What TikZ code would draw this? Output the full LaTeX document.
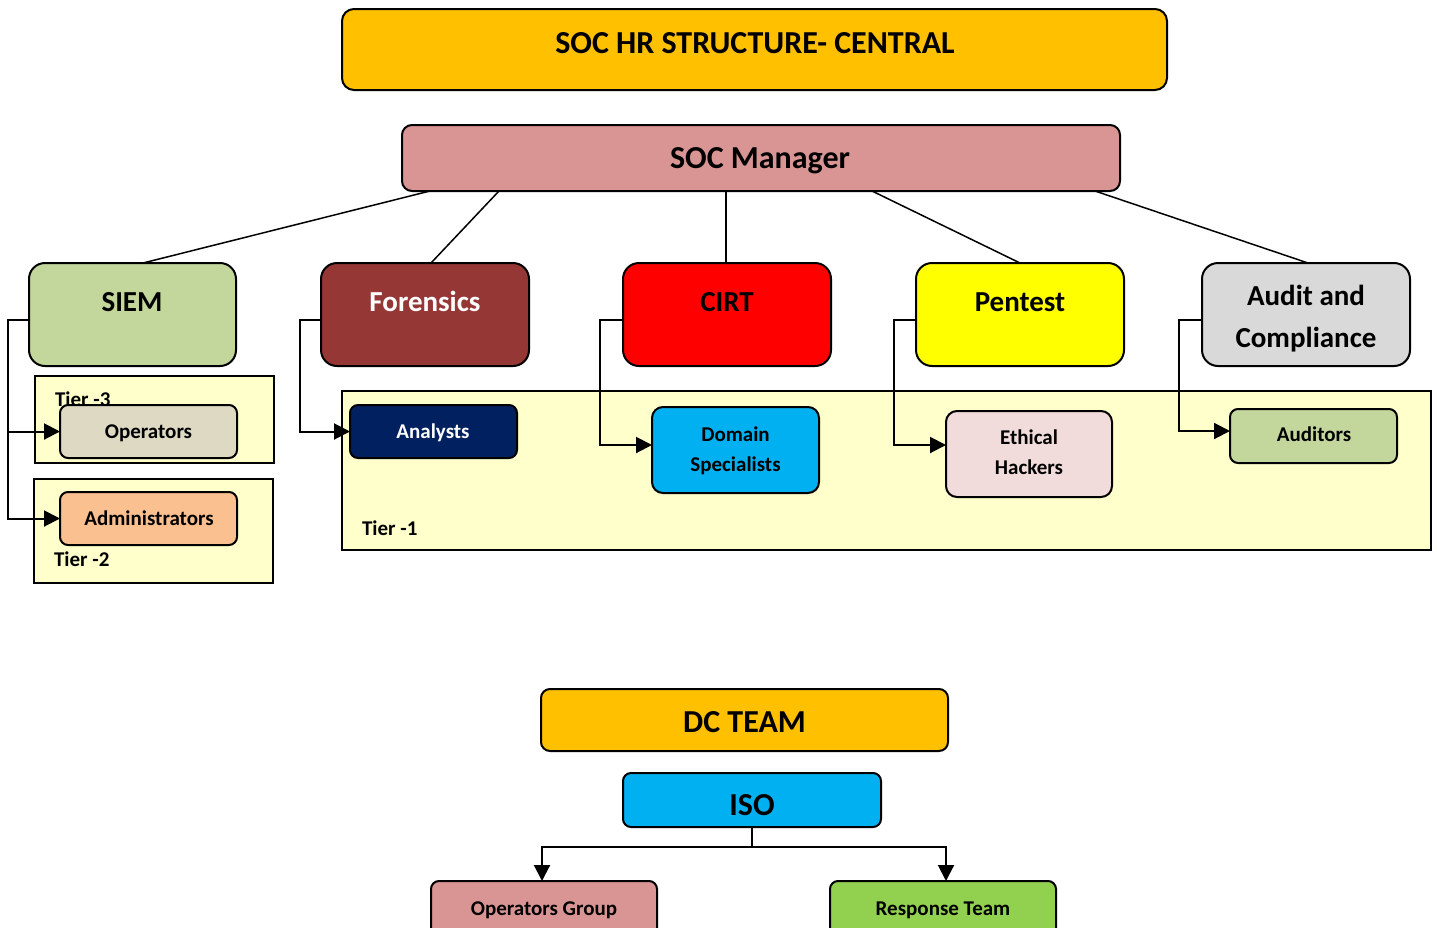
\documentclass[tikz,border=0pt]{standalone}
\usepackage{fontspec}
\setmainfont{Carlito}
\usetikzlibrary{arrows.meta}

\definecolor{cGold}{HTML}{FFC000}
\definecolor{cRose}{HTML}{D99594}
\definecolor{cOlive}{HTML}{C3D69B}
\definecolor{cMaroon}{HTML}{953735}
\definecolor{cRed}{HTML}{FF0000}
\definecolor{cYellow}{HTML}{FFFF00}
\definecolor{cGrey}{HTML}{D9D9D9}
\definecolor{cTier}{HTML}{FFFFCC}
\definecolor{cTaupe}{HTML}{DDD9C3}
\definecolor{cPeach}{HTML}{FAC090}
\definecolor{cNavy}{HTML}{002060}
\definecolor{cSky}{HTML}{00B0F0}
\definecolor{cBlush}{HTML}{F2DCDB}
\definecolor{cLime}{HTML}{92D050}

\newcommand\socXL{\fontsize{32}{38}\selectfont\bfseries}
\newcommand\socL{\fontsize{29}{42}\selectfont\bfseries}
\newcommand\socS{\fontsize{21}{30}\selectfont\bfseries}

\tikzset{
  box/.style={draw=black, line width=2pt, rounded corners=#1, inner sep=0pt, outer sep=0pt},
  box/.default=9pt,
  tierbox/.style={draw=black, line width=1.6pt, fill=cTier, inner sep=0pt, outer sep=0pt},
  lbl/.style={anchor=base, inner sep=0pt, outer sep=0pt},
  ml/.style={inner sep=0pt, outer sep=0pt, align=center},
  link/.style={line width=1.5pt},
  arr/.style={line width=2pt, -{Triangle[length=16pt,width=16pt]}},
}

\begin{document}
\begin{tikzpicture}[x=1pt,y=-1pt]
\path[use as bounding box, fill=white] (0,0) rectangle (1437,927);
\clip (0,0) rectangle (1437,927);

% header and manager
\node[box=12pt, fill=cGold, minimum width=825, minimum height=81] (title) at (754.5,49.5) {};
\node[lbl, font=\socXL] (titleT) at (755,53.3) {SOC HR STRUCTURE- CENTRAL};

\node[box=10pt, fill=cRose, minimum width=718, minimum height=66] (mgr) at (761,158) {};
\node[lbl, font=\socXL] (mgrT) at (760,168.3) {SOC Manager};

% tier containers
\node[tierbox, minimum width=239, minimum height=87] (tier3) at (154.5,419.5) {};
\node[tierbox, minimum width=239, minimum height=104] (tier2) at (153.5,531) {};
\node[tierbox, minimum width=1089, minimum height=159] (tier1) at (886.5,470.5) {};
\node[lbl, anchor=base west, font=\socS] (tier3T) at (55,406.8) {Tier -3};
\node[lbl, anchor=base west, font=\socS] (tier2T) at (54,566) {Tier -2};
\node[lbl, anchor=base west, font=\socS] (tier1T) at (362,535) {Tier -1};

% departments
\node[box=16pt, fill=cOlive, minimum width=207, minimum height=103] (siem) at (132.5,314.5) {};
\node[box=16pt, fill=cMaroon, minimum width=208, minimum height=103] (foren) at (425,314.5) {};
\node[box=16pt, fill=cRed, minimum width=208, minimum height=103] (cirt) at (727,314.5) {};
\node[box=16pt, fill=cYellow, minimum width=208, minimum height=103] (pent) at (1020,314.5) {};
\node[box=16pt, fill=cGrey, minimum width=208, minimum height=103] (audit) at (1306,314.5) {};
\node[lbl, font=\socL] (siemT) at (132,311.3) {SIEM};
\node[lbl, font=\socL, text=white] (forenT) at (425,311.3) {Forensics};
\node[lbl, font=\socL] (cirtT) at (727,311.3) {CIRT};
\node[lbl, font=\socL] (pentT) at (1020,311.3) {Pentest};
\node[ml, font=\socL] (auditT) at (1306,319) {Audit and\\Compliance};

% teams
\node[box=8pt, fill=cTaupe, minimum width=177, minimum height=53] (oper) at (148.5,431.5) {};
\node[box=8pt, fill=cPeach, minimum width=177, minimum height=53] (admin) at (148.5,518.5) {};
\node[box=8pt, fill=cNavy, minimum width=167, minimum height=53] (anal) at (433.5,431.5) {};
\node[box=11pt, fill=cSky, minimum width=167, minimum height=86] (dom) at (735.5,450) {};
\node[box=11pt, fill=cBlush, minimum width=166, minimum height=86] (eth) at (1029,454) {};
\node[box=8pt, fill=cOlive, minimum width=167, minimum height=54] (aud) at (1313.5,436) {};
\node[lbl, font=\socS] (operT) at (148.5,438.3) {Operators};
\node[lbl, font=\socS] (adminT) at (149,525.3) {Administrators};
\node[lbl, font=\socS, text=white] (analT) at (433,438.3) {Analysts};
\node[ml, font=\socS] (domT) at (735.5,450.6) {Domain\\Specialists};
\node[ml, font=\socS] (ethT) at (1029,452.5) {Ethical\\Hackers};
\node[lbl, font=\socS] (audT) at (1314,441.3) {Auditors};

% manager to departments
\draw[link] ([xshift=-331pt]mgr.south) -- ([xshift=10.5pt]siem.north);
\draw[link] ([xshift=-262pt]mgr.south) -- ([xshift=6pt]foren.north);
\draw[link] ([xshift=-35pt]mgr.south) -- ([xshift=-1pt]cirt.north);
\draw[link] ([xshift=111pt]mgr.south) -- (pent.north);
\draw[link] ([xshift=334pt]mgr.south) -- ([xshift=2pt]audit.north);

% departments to teams
\draw[arr] ([yshift=-5.5pt]siem.west) -- ++(-21,0) |- (oper.west);
\draw[arr] ([yshift=-5.5pt]siem.west) -- ++(-21,0) |- (admin.west);
\draw[arr] ([yshift=-5.5pt]foren.west) -- ++(-21,0) |- (anal.west);
\draw[arr] ([yshift=-5.5pt]cirt.west) -- ++(-23,0) |- ([yshift=5pt]dom.west);
\draw[arr] ([yshift=-5.5pt]pent.west) -- ++(-22,0) |- ([yshift=9pt]eth.west);
\draw[arr] ([yshift=-5.5pt]audit.west) -- ++(-23,0) |- ([yshift=5pt]aud.west);

% DC team
\node[box=9pt, fill=cGold, minimum width=407, minimum height=62] (dc) at (744.5,720) {};
\node[lbl, font=\socXL] (dcT) at (744.5,732.3) {DC TEAM};
\node[box=8pt, fill=cSky, minimum width=258, minimum height=54] (iso) at (752,800) {};
\node[lbl, font=\socXL] (isoT) at (752,815.3) {ISO};
\node[box=8pt, fill=cRose, minimum width=226, minimum height=60] (opg) at (544,911) {};
\node[box=8pt, fill=cLime, minimum width=226, minimum height=60] (resp) at (943,911) {};
\node[lbl, font=\socS] (opgT) at (544,915.3) {Operators Group};
\node[lbl, font=\socS] (respT) at (943,915.3) {Response Team};

\draw[arr] (iso.south) -- ++(0,20) -| ([xshift=-2pt]opg.north);
\draw[arr] (iso.south) -- ++(0,20) -| ([xshift=3pt]resp.north);
\end{tikzpicture}
\end{document}
